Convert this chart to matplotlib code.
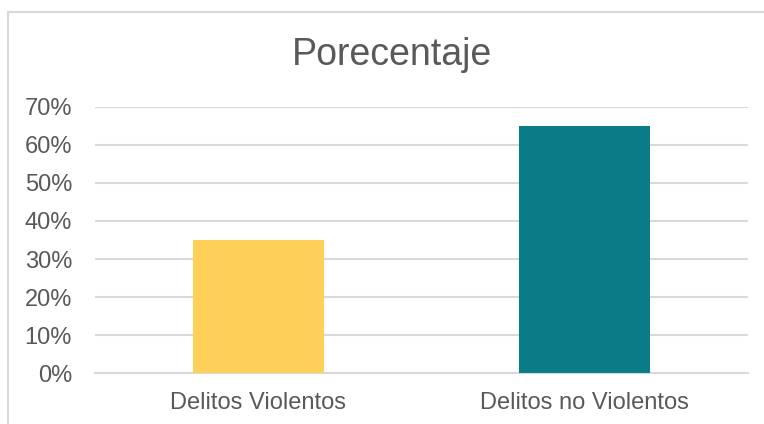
import matplotlib.pyplot as plt
from matplotlib.patches import Rectangle
from matplotlib.ticker import PercentFormatter

categories = ["Delitos Violentos", "Delitos no Violentos"]
values = [0.35, 0.65]
colors = ["#FFD057", "#0A7C87"]
yticks = [0, 0.1, 0.2, 0.3, 0.4, 0.5, 0.6, 0.7]

plt.rcParams['font.family'] = ['Liberation Sans', 'DejaVu Sans']
text_color = '#595959'

fig = plt.figure(figsize=(7.64, 4.24), dpi=100)
ax = fig.add_axes([95 / 764, 51 / 424, 653 / 764, 266 / 424])

ax.bar(range(len(categories)), values, width=0.4, color=colors, zorder=3)
ax.set_xlim(-0.5, 1.5)
ax.set_ylim(0, 0.7)
ax.set_yticks(yticks)
ax.yaxis.set_major_formatter(PercentFormatter(1.0, decimals=0))
ax.set_xticks(range(len(categories)))
ax.set_xticklabels(categories)
ax.grid(axis='y', color='#D9D9D9', linewidth=1.5, zorder=0)
ax.tick_params(axis='both', length=0, labelsize=17, labelcolor=text_color)
ax.tick_params(axis='y', pad=16.5)
ax.tick_params(axis='x', pad=13.5)
for side in ['top', 'right', 'left']:
    ax.spines[side].set_visible(False)
ax.spines['bottom'].set_color('#D9D9D9')
ax.spines['bottom'].set_linewidth(1.5)

fig.text(392 / 764, 1 - 55 / 424, "Porecentaje", ha='center', va='center',
         fontsize=27, color=text_color)

# light border around the chart area
fig.patches.append(Rectangle((7.5 / 764, -0.1), 1.2, 1 - 11.5 / 424 + 0.1,
                             transform=fig.transFigure, fill=False,
                             edgecolor='#D9D9D9', linewidth=1.5))

fig.savefig("out.png", dpi=100)
